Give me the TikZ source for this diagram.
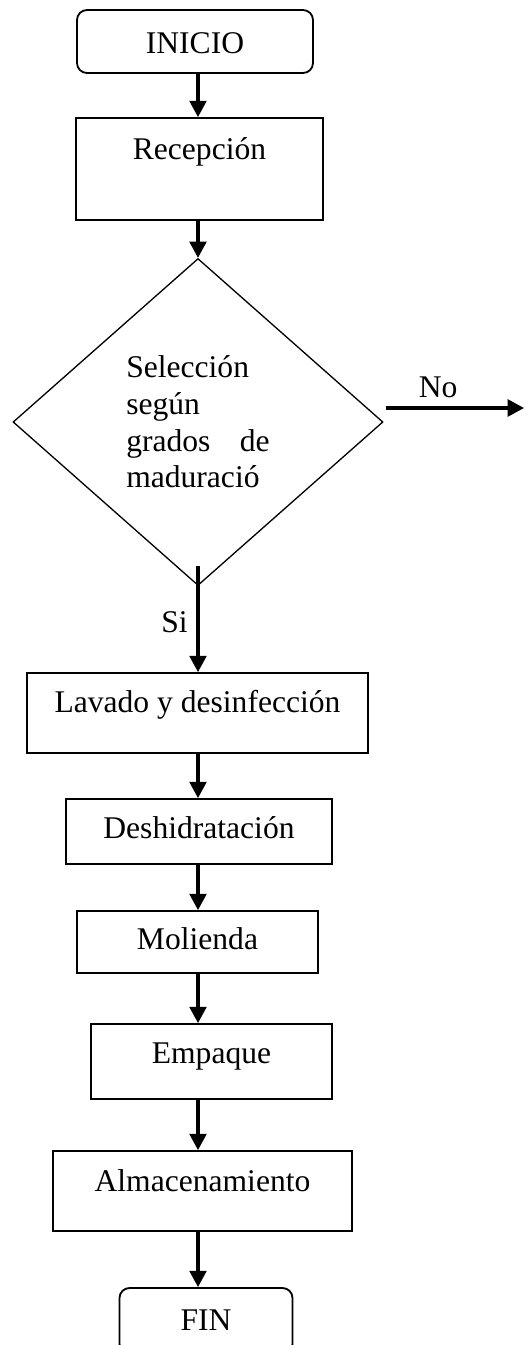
\documentclass[tikz,border=0pt]{standalone}
\usepackage{fontspec}
\setmainfont{Liberation Serif}
\usetikzlibrary{arrows.meta,shapes.geometric}

\newdimen\px
\px=0.38pt
\tikzset{
	caja/.style={draw, line width=0.7pt, inner sep=0pt, anchor=base},
	terminal/.style={caja, rounded corners=3.8pt},
	decision/.style={diamond, draw, line width=0.5pt, inner sep=0pt, text width=54.5pt, align=left},
	flecha/.style={line width=1.15pt, -{Triangle[length=6.2pt, width=6.4pt]}},
}

\begin{document}
\begin{tikzpicture}[x=0.38pt, y=-0.38pt, font=\fontsize{12}{13.9}\selectfont]
	\useasboundingbox (0,0) rectangle (525,1345);
	\coordinate (eje) at (198,0);
	\coordinate (finno) at (524,408);

	%Inicio y fin
	\node[terminal, minimum width=236*\px, text height=43*\px, text depth=20*\px] (inicio) at (195,53) {INICIO};
	\node[terminal, minimum width=173*\px, text height=42*\px, text depth=24*\px] (fin) at (206,1330) {FIN};

	%Cajas del proceso
	\foreach \nombre/\cx/\base/\ancho/\alto/\prof/\texto in {
		recepcion/199.5/159/247/41/61/Recepción,
		lavado/197.5/712/341/39/41/Lavado y desinfección,
		deshid/199/838/266/39/26/Deshidratación,
		molienda/197.5/949/241/38/24/Molienda,
		empaque/211.5/1063/241/39/36/Empaque,
		almacen/202.5/1191/299/40/40/Almacenamiento}{
		\pgfmathsetlengthmacro\ancholen{\ancho*\px}
		\pgfmathsetlengthmacro\altolen{\alto*\px}
		\pgfmathsetlengthmacro\proflen{\prof*\px}
		\node[caja, minimum width=\ancholen, text height=\altolen, text depth=\proflen] (\nombre) at (\cx,\base) {\texto};
	}

	%Seleccion
	\node[decision, minimum width=370*\px, minimum height=327*\px] (seleccion) at (198,422)
		{Selección\\según\\grados\hfill de\\maduració};

	%Flechas
	\foreach \a/\b in {inicio/recepcion, lavado/deshid, deshid/molienda, molienda/empaque, empaque/almacen, almacen/fin}
		\draw[flecha] (\a.south -| eje) -- (\b.north -| eje);
	\draw[flecha] (recepcion.south -| eje) -- (seleccion.north);
	\draw[flecha] ([yshift=20*\px]seleccion.south) -- node[left, pos=0.53]{Si} (lavado.north -| eje);
	\draw[flecha] ([xshift=2*\px, yshift=14*\px]seleccion.east) -- node[above, pos=0.38]{No} (finno);
\end{tikzpicture}
\end{document}
